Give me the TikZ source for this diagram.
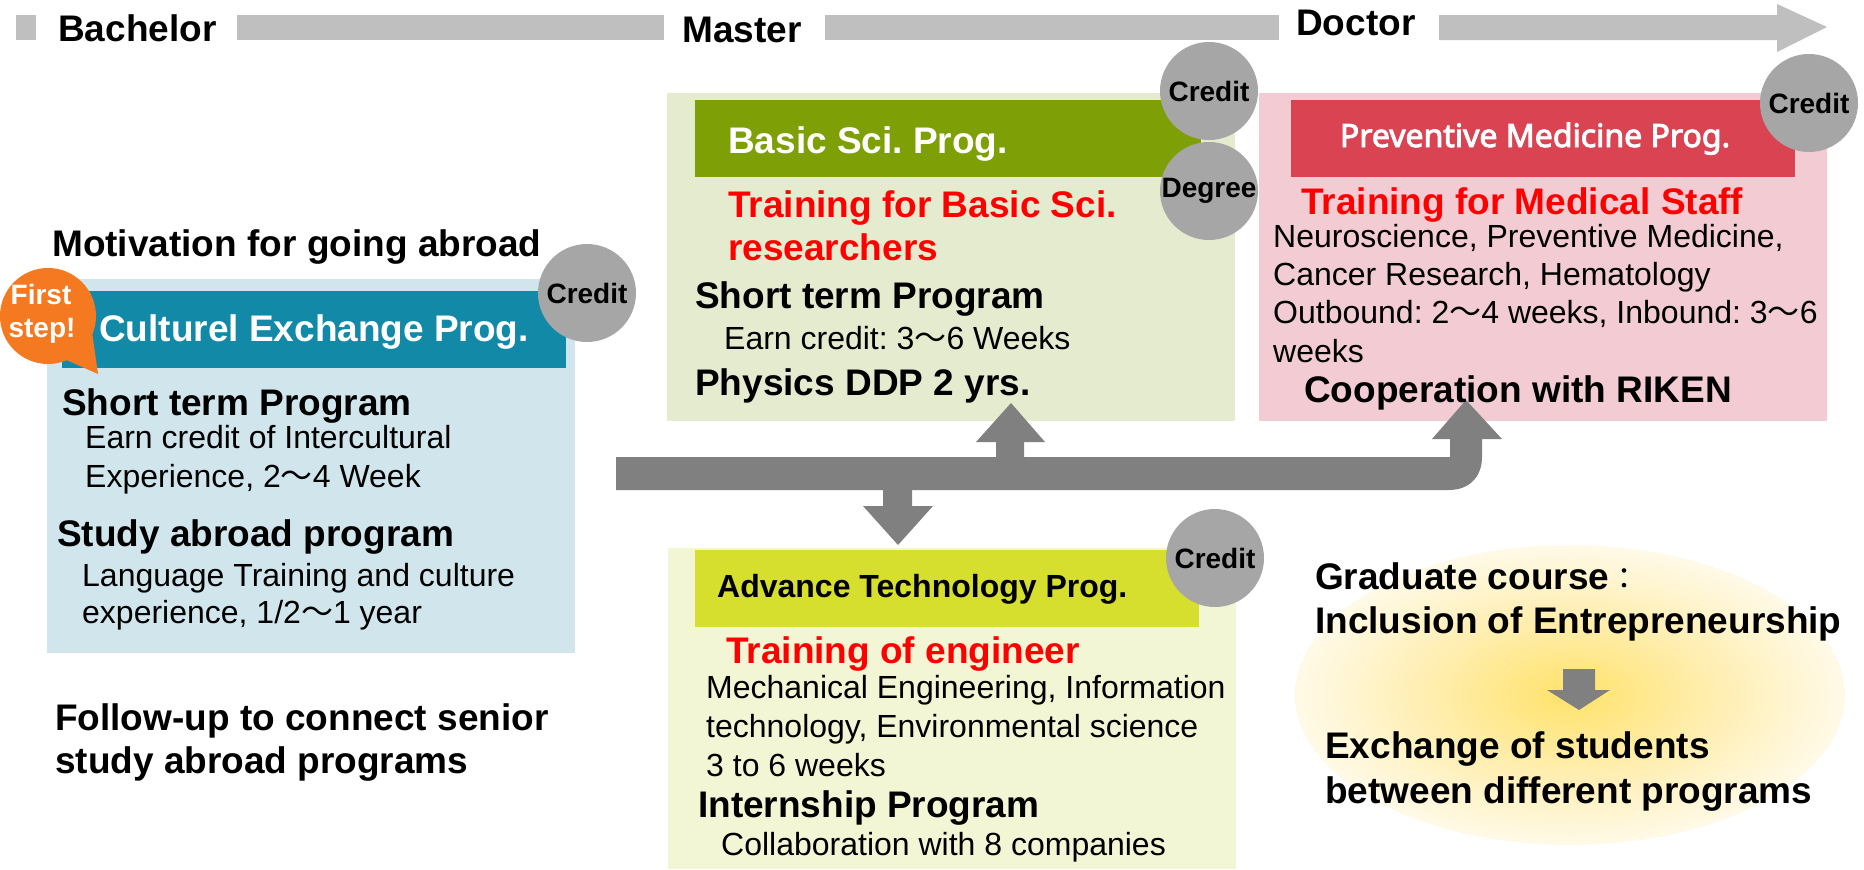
\documentclass[tikz,border=0pt]{standalone}
\usepackage{fontspec}
\setmainfont{Liberation Sans}
\newfontfamily\jpfont{Noto Sans CJK JP}
\newfontfamily\medfont[FakeBold=3]{Noto Sans}
\usetikzlibrary{positioning}
\frenchspacing

\definecolor{bargray}{HTML}{BFBFBF}
\definecolor{arrowgray}{HTML}{808080}
\definecolor{circgray}{HTML}{A6A6A6}
\definecolor{cultbg}{HTML}{D0E6EC}
\definecolor{culthead}{HTML}{1389A8}
\definecolor{basicbg}{HTML}{E5EBCF}
\definecolor{basichead}{HTML}{7F9F06}
\definecolor{medbg}{HTML}{F2CCD2}
\definecolor{medhead}{HTML}{D94352}
\definecolor{techbg}{HTML}{F3F6D4}
\definecolor{techhead}{HTML}{D6DF2D}
\definecolor{firstorange}{HTML}{F47920}
\definecolor{glowin}{HTML}{FFE26A}
\definecolor{glowmid}{HTML}{FFEEB0}
\definecolor{glowout}{HTML}{FFF6D6}
\definecolor{glowrim}{HTML}{FFFAE8}
\pgfdeclareradialshading{glow}{\pgfpoint{0bp}{0bp}}{color(0bp)=(glowin); color(13bp)=(glowmid); color(21bp)=(glowout); color(25bp)=(glowrim); color(50bp)=(glowrim)}

\newcommand{\kara}{{\jpfont ～}}

\tikzset{
  head/.style={font=\fontsize{37}{44}\selectfont\bfseries, anchor=base west, inner sep=0pt},
  body/.style={font=\fontsize{32}{38}\selectfont, anchor=base west, inner sep=0pt},
  redhead/.style={head, text=red},
  credit/.style={circle, fill=circgray, minimum size=98, inner sep=0pt,
    font=\fontsize{28}{32}\selectfont\bfseries}
}

\begin{document}
\begin{tikzpicture}[x=1pt, y=-1pt]
  \useasboundingbox (0,0) rectangle (1864,870);

  % time line
  \fill[bargray] (16,15) rectangle (36,40);
  \fill[bargray] (237,15) rectangle (664,40);
  \fill[bargray] (825,15) rectangle (1279,40);
  \fill[bargray] (1439,15) -- (1777,15) -- (1777,4) -- (1827,27)
    -- (1777,52) -- (1777,40) -- (1439,40) -- cycle;
  \node[head] (bach) at (58,41) {Bachelor};
  \node[head] (mast) at (682,42) {Master};
  \node[head] (doct) at (1296,35) {Doctor};

  % program boxes
  \fill[cultbg] (47,279) rectangle (575,653);
  \fill[culthead] (62,291) rectangle (566,368);
  \fill[basicbg] (667,93) rectangle (1235,421);
  \fill[basichead] (695,100) rectangle (1201,177);
  \fill[medbg] (1259,93) rectangle (1827,421);
  \fill[medhead] (1291,100) rectangle (1795,177);
  \fill[techbg] (668,548) rectangle (1236,869);
  \fill[techhead] (695,550) rectangle (1199,627);

  % glow
  \shade[shading=glow] (1570,695) ellipse [x radius=275, y radius=150];

  % arrows
  \fill[arrowgray] (616,457) -- (996,457) -- (996,442) -- (976,442) -- (1011,403)
    -- (1045,442) -- (1024,442) -- (1024,457) -- (1450,457) -- (1450,439)
    -- (1432,439) -- (1466,400) -- (1502,439) -- (1482,439) -- (1482,457)
    .. controls (1482,477) and (1469,490) .. (1449,490)
    -- (912,490) -- (912,506) -- (933,506) -- (898,545) -- (863,506)
    -- (883,506) -- (883,490) -- (616,490) -- cycle;
  \fill[arrowgray] (1563,669) -- (1595,669) -- (1595,690) -- (1610,690)
    -- (1579,710) -- (1547,690) -- (1563,690) -- cycle;

  % first step bubble
  \fill[firstorange] (48,316) circle [radius=48];
  \fill[firstorange] (62,358) -- (98,374) -- (92,332) -- cycle;
  \node[font=\fontsize{28}{32}\selectfont\bfseries, text=white, anchor=base, inner sep=0pt]
    (first1) at (41,304) {First};
  \node[font=\fontsize{28}{32}\selectfont\bfseries, text=white, anchor=base, inner sep=0pt]
    (first2) at (42,337) {step!};

  % credits
  \node[credit] (cultCredit) at (587,293) {Credit};
  \node[credit] (basicCredit) at (1209,91) {Credit};
  \node[credit] (basicDegree) at (1209,191) {Degree};
  \node[credit] (medCredit) at (1809,103) {Credit};
  \node[credit] (techCredit) at (1215,558) {Credit};

  % culture exchange
  \node[head] (motiv) at (52,256) {Motivation for going abroad};
  \node[head, text=white] (cultTitle) at (99,341) {Culturel Exchange Prog.};
  \node[head] (cultShort) at (62,415) {Short term Program};
  \node[body] (cultEarn1) at (85,448) {Earn credit of Intercultural};
  \node[body] (cultEarn2) at (85,487) {Experience, 2\kara 4 Week};
  \node[head] (cultStudy) at (57,546) {Study abroad program};
  \node[body] (cultLang1) at (82,586) {Language Training and culture};
  \node[body] (cultLang2) at (82,623) {experience, 1/2\kara 1 year};
  \node[head] (follow1) at (55,730) {Follow-up to connect senior};
  \node[head] (follow2) at (55,773) {study abroad programs};

  % basic science
  \node[head, text=white] (basicTitle) at (728,153) {Basic Sci. Prog.};
  \node[redhead] (basicTrain1) at (728,217) {Training for Basic Sci.};
  \node[redhead] (basicTrain2) at (728,260) {researchers};
  \node[head] (basicShort) at (695,308) {Short term Program};
  \node[body] (basicEarn) at (724,349) {Earn credit: 3\kara 6 Weeks};
  \node[head] (basicDDP) at (695,395) {Physics DDP 2 yrs.};

  % preventive medicine
  \node[font=\fontsize{32}{38}\selectfont\medfont, text=white, anchor=base, inner sep=0pt]
    (medTitle) at (1535,147) {Preventive Medicine Prog.};
  \node[redhead] (medTrain) at (1301,214) {Training for Medical Staff};
  \node[body] (medField1) at (1273,247) {Neuroscience, Preventive Medicine,};
  \node[body] (medField2) at (1273,285) {Cancer Research, Hematology};
  \node[body] (medWeeks1) at (1273,323) {Outbound: 2\kara 4 weeks, Inbound: 3\kara 6};
  \node[body] (medWeeks2) at (1273,362) {weeks};
  \node[head] (medRiken) at (1304,402) {Cooperation with RIKEN};

  % advance technology
  \node[head, font=\fontsize{32}{38}\selectfont\bfseries] (techTitle) at (717,597) {Advance Technology Prog.};
  \node[redhead] (techTrain) at (726,663) {Training of engineer};
  \node[body] (techField1) at (706,698) {Mechanical Engineering, Information};
  \node[body] (techField2) at (706,737) {technology, Environmental science};
  \node[body] (techWeeks) at (706,776) {3 to 6 weeks};
  \node[head] (techIntern) at (698,817) {Internship Program};
  \node[body] (techCompany) at (721,855) {Collaboration with 8 companies};

  % graduate course
  \node[head] (grad1) at (1315,589) {Graduate course{\jpfont\mdseries\fontsize{30}{36}\selectfont ：}};
  \node[head] (grad2) at (1315,633) {Inclusion of Entrepreneurship};
  \node[head] (exch1) at (1325,758) {Exchange of students};
  \node[head] (exch2) at (1325,803) {between different programs};
\end{tikzpicture}
\end{document}
